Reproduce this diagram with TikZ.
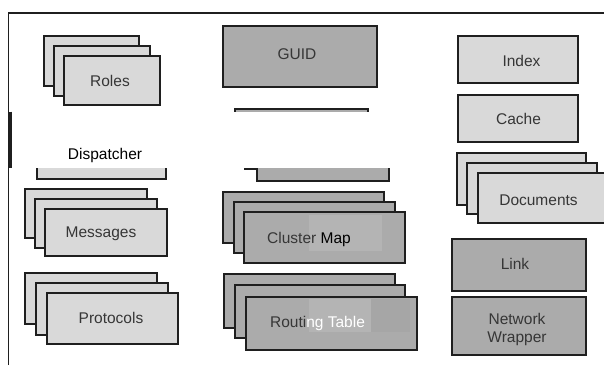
\documentclass[tikz,border=0pt]{standalone}
\usepackage{fontspec}
\setmainfont{Liberation Sans}

\definecolor{lightfill}{HTML}{D9D9D9}
\definecolor{darkfill}{HTML}{ABABAB}
\definecolor{edge}{HTML}{1F1F1F}
\definecolor{ink}{HTML}{363636}
\definecolor{pastemid}{HTML}{B4B4B4}
\definecolor{pastedark}{HTML}{A6A6A6}

\tikzset{
  blk/.style={draw=edge, line width=1.6pt, inner sep=0pt, outer sep=0pt},
  lite/.style={blk, fill=lightfill},
  dark/.style={blk, fill=darkfill},
  lbl/.style={font=\fontsize{15.5}{18}\selectfont, text=ink, inner sep=0pt, anchor=base},
  frame/.style={draw=edge, line width=1.5pt},
}

% \boxat{name}{style}{x1}{y1}{x2}{y2}: box node spanning the given corners
\newcommand\boxat[6]{%
  \node[#2, minimum width={(#5)-(#3)}, minimum height={(#6)-(#4)}]
    (#1) at ({((#3)+(#5))/2},{((#4)+(#6))/2}) {};}

\begin{document}
\begin{tikzpicture}[x=1pt, y=-1pt]
\useasboundingbox (0,0) rectangle (604,365);
\clip (0,0) rectangle (604,365);

% outer frame (top and left sides only)
\draw[frame] (8.5,365) -- (8.5,13) -- (604,13);

% ---- left column ----
\boxat{roles1}{lite}{44}{36}{139}{86}
\boxat{roles2}{lite}{54}{46}{150}{96}
\boxat{roles3}{lite}{64}{56}{160}{105}

\boxat{disp}{lite}{37}{120}{166}{179}

\boxat{msg1}{lite}{25}{189}{147}{238}
\boxat{msg2}{lite}{35}{199}{157}{248}
\boxat{msg3}{lite}{45}{209}{167}{256}

\boxat{prot1}{lite}{25}{273}{157}{324}
\boxat{prot2}{lite}{36}{283}{168}{335}
\boxat{prot3}{lite}{47}{293}{178}{344}

% ---- middle column ----
\boxat{guid}{dark}{223}{26}{377}{87}

\boxat{mid1}{dark}{235}{109}{368}{160}
\boxat{mid2}{dark}{245}{119}{378}{169}
\boxat{mid3}{dark}{257}{130}{389}{181}

\boxat{cmap1}{dark}{223}{192}{384}{243}
\boxat{cmap2}{dark}{234}{202}{395}{253}
\boxat{cmap3}{dark}{244}{212}{405}{263}

\boxat{rt1}{dark}{224}{274}{395}{328}
\boxat{rt2}{dark}{235}{285}{405}{338}
\boxat{rt3}{dark}{246}{297}{417}{350}

% ---- right column ----
\boxat{index}{lite}{458}{36}{578}{83}
\boxat{cache}{lite}{458}{95}{578}{142}

\boxat{doc1}{lite}{457}{153}{586}{205}
\boxat{doc2}{lite}{467}{163}{597}{214}
\boxat{doc3}{lite}{478}{173}{612}{223}

\boxat{link}{dark}{452}{239}{586}{291}
\boxat{netw}{dark}{452}{297}{586}{355}

% blank band across the upper left, with its own edge piece
\fill[white] (11,111.5) rectangle (425,168);
\draw[edge, line width=3pt] (10.5,111.5) -- (10.5,168);

% flat patches over the two stacked tables
\fill[pastemid] (309,215) rectangle (382,251);
\fill[pastemid] (309,298.5) rectangle (371,332);
\fill[pastedark] (371,298.5) rectangle (410,332);

% ---- labels ----
\node[lbl] (rolesl) at (110,86) {Roles};
\node[lbl, text=black] (displ) at (105,159) {Dispatcher};
\node[lbl] (msgl) at (101,237) {Messages};
\node[lbl] (protl) at (111,323) {Protocols};
\node[lbl] (guidl) at (297,59) {GUID};
\node[lbl] (cmapl) at (309,243) {Cluster \textcolor{black}{Map}};
\node[lbl] (rtl) at (317.5,327) {Routi\textcolor{white}{ng Table}};
\node[lbl] (indexl) at (521.5,66) {Index};
\node[lbl] (cachel) at (518.5,124) {Cache};
\node[lbl] (docl) at (538.5,205) {Documents};
\node[lbl] (linkl) at (515,269) {Link};
\node[lbl, anchor=center, align=center] (netwl) at (517,329) {Network\\Wrapper};
\end{tikzpicture}
\end{document}
